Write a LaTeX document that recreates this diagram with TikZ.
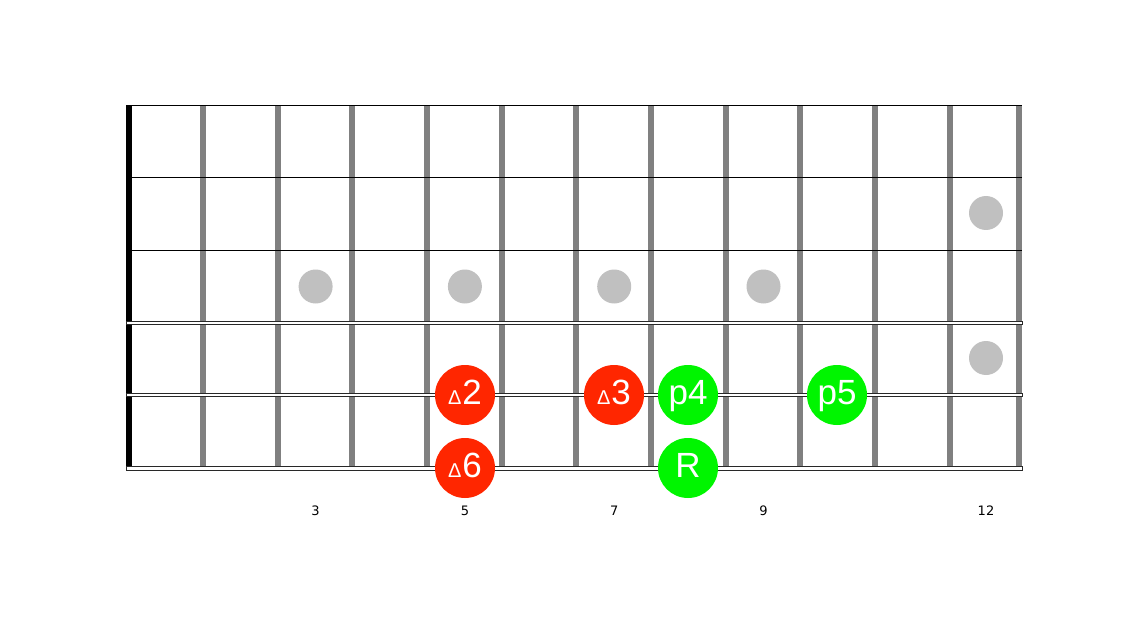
\documentclass[tikz,border=0pt]{standalone}
\usepackage{fontspec}
\setmainfont{Liberation Sans}
\newfontfamily\numfont{DejaVu Sans}
\definecolor{fretgray}{RGB}{128,128,128}
\definecolor{dotgray}{RGB}{192,192,192}
\definecolor{notered}{RGB}{255,38,0}
\definecolor{notegreen}{RGB}{0,245,0}
\definecolor{strdark}{RGB}{40,40,40}
\newcommand{\tri}{{\fontsize{20}{20}\selectfont Δ}}
\begin{document}
\begin{tikzpicture}[x=1pt,y=-1pt,
  inlay/.style={circle,fill=dotgray,draw=none,minimum size=34pt,inner sep=0pt},
  rednote/.style={circle,fill=notered,draw=none,minimum size=60pt,inner sep=0pt},
  greennote/.style={circle,fill=notegreen,draw=none,minimum size=60pt,inner sep=0pt},
  notetext/.style={anchor=base,text=white,inner sep=0pt,font=\fontsize{35}{35}\selectfont},
  fretnum/.style={inner sep=0pt,font=\numfont\fontsize{13}{13}\selectfont},
  thinstring/.style={draw=black,line width=1pt},
  thickstring/.style={fill=white,draw=strdark,line width=0.9pt}
]
\useasboundingbox (0,0) rectangle (1122,631);
\fill[white] (0,0) rectangle (1122,631);
% nut
\fill[black] (126,105) rectangle (132,466);
% frets
\foreach \k in {1,...,11}{
  \pgfmathsetmacro{\fx}{128.5+74.65*\k}
  \fill[fretgray] (\fx-3,105) rectangle (\fx+3,466);
}
\fill[fretgray] (1016,105) rectangle (1022,466);
% inlays
\node[inlay] (d3) at (315.6,286.5) {};
\node[inlay] (d5) at (464.9,286.5) {};
\node[inlay] (d7) at (614.2,286.5) {};
\node[inlay] (d9) at (763.5,286.5) {};
\node[inlay] (d12a) at (986,213) {};
\node[inlay] (d12b) at (986,358) {};
% strings
\draw[thinstring] (126,105.5) -- (1022,105.5);
\draw[thinstring] (126,177.6) -- (1022,177.6);
\draw[thinstring] (126,250.2) -- (1022,250.2);
\draw[thickstring] (126,321.3) rectangle (1022,324.0);
\draw[thickstring] (126,393.6) rectangle (1022,396.8);
\draw[thickstring] (126,466.2) rectangle (1022,470.2);
% notes
\node[rednote] (n2) at (465,395) {};
\node[notetext] (t2) at (465,404.5) {\tri\kern1pt 2};
\node[rednote] (n6) at (465,468) {};
\node[notetext] (t6) at (465,477.5) {\tri\kern1pt 6};
\node[rednote] (n3) at (614,395) {};
\node[notetext] (t3) at (614,404.5) {\tri\kern1pt 3};
\node[greennote] (n4) at (688,395) {};
\node[notetext] (t4) at (688,404.5) {p4};
\node[greennote] (nR) at (688,468) {};
\node[notetext] (tR) at (688,477.5) {R};
\node[greennote] (n5) at (837,395) {};
\node[notetext] (t5) at (837,404.5) {p5};
% fret numbers
\node[fretnum] (f3) at (315.6,511) {3};
\node[fretnum] (f5) at (464.9,511) {5};
\node[fretnum] (f7) at (614.2,511) {7};
\node[fretnum] (f9) at (763.5,511) {9};
\node[fretnum] (f12) at (986,511) {12};
\end{tikzpicture}
\end{document}
